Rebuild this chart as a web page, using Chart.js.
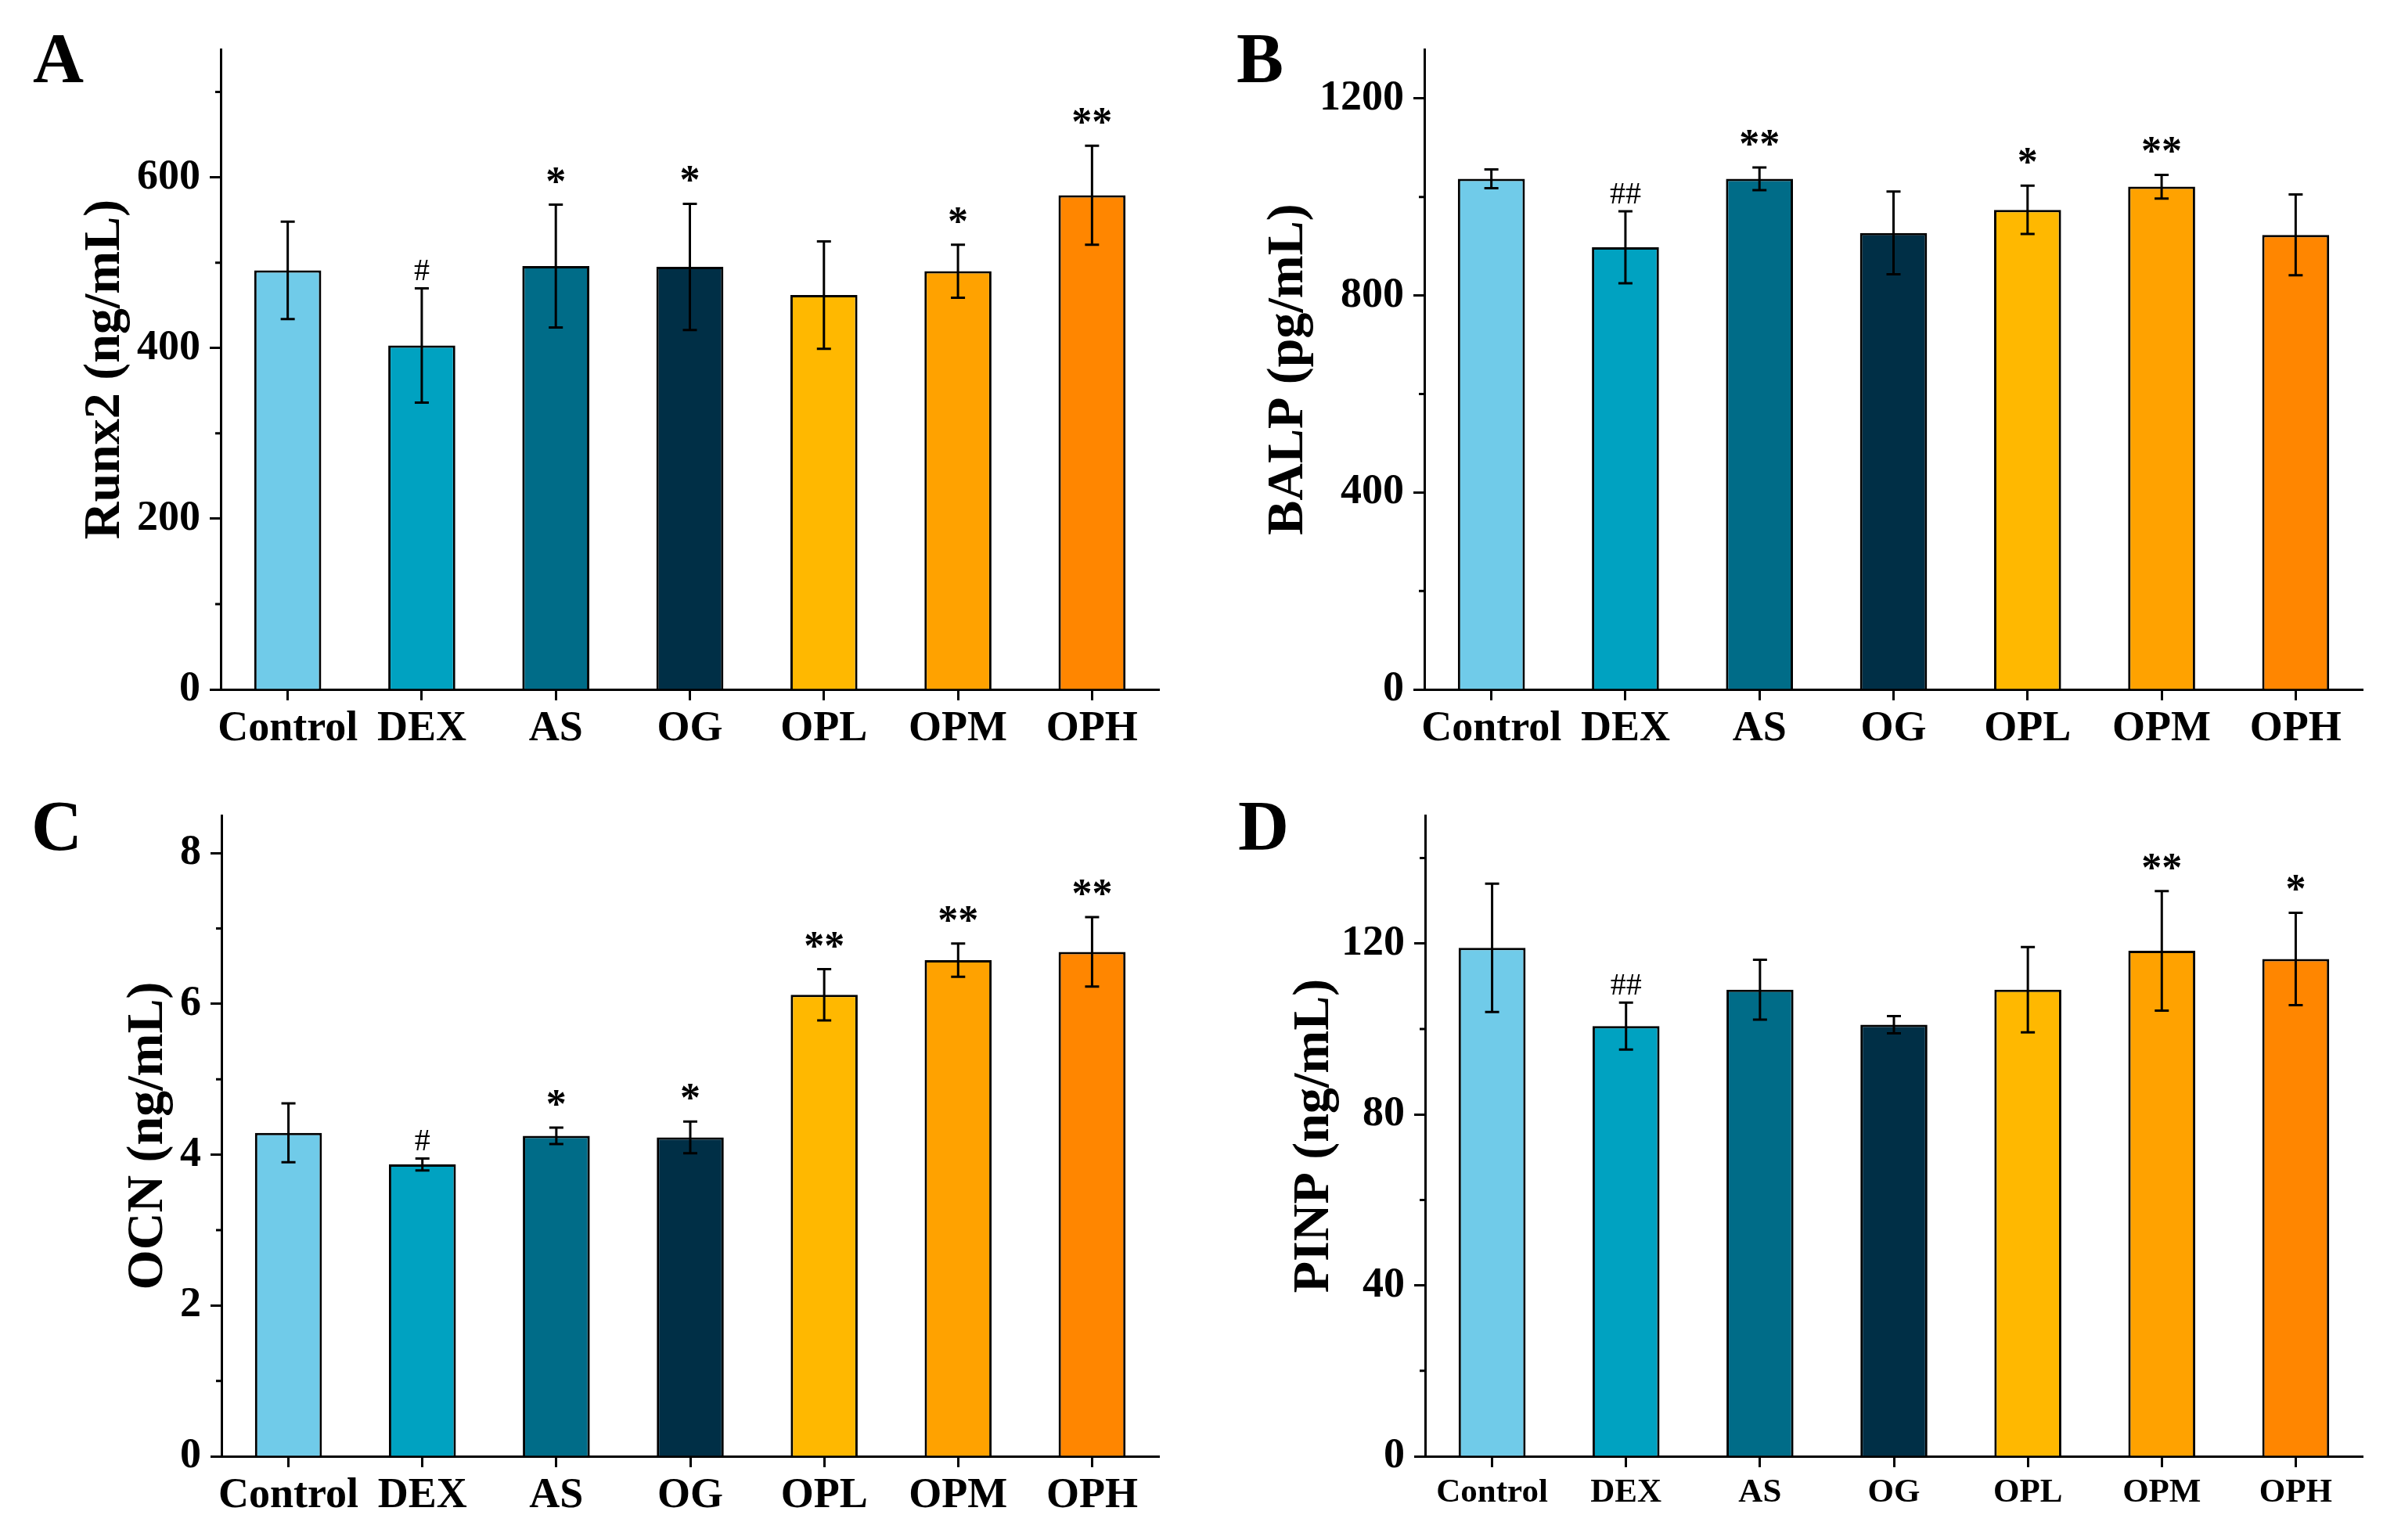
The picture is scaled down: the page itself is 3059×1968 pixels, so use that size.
<!DOCTYPE html>
<html>
<head>
<meta charset="utf-8">
<script src="https://cdn.jsdelivr.net/npm/chart.js@4.4.1/dist/chart.umd.min.js"></script>
<style>
  body { margin: 0; width: 3059px; height: 1968px; background: #fff; position: relative; overflow: hidden; }
  .panel { position: absolute; }
  .letter { position: absolute; font-family: 'Liberation Serif', 'Times New Roman', serif; font-weight: bold; font-size: 90px; line-height: 90px; color: #000; }
</style>
</head>
<body>
<div class="panel" style="left:0;top:0;width:1530px;height:984px"><canvas id="chartA" width="1530" height="984"></canvas></div>
<div class="panel" style="left:1530px;top:0;width:1529px;height:984px"><canvas id="chartB" width="1529" height="984"></canvas></div>
<div class="panel" style="left:0;top:984px;width:1530px;height:984px"><canvas id="chartC" width="1530" height="984"></canvas></div>
<div class="panel" style="left:1530px;top:984px;width:1529px;height:984px"><canvas id="chartD" width="1529" height="984"></canvas></div>
<div class="letter" style="left:42px;top:30px">A</div>
<div class="letter" style="left:1580px;top:30px">B</div>
<div class="letter" style="left:40px;top:1011px">C</div>
<div class="letter" style="left:1582px;top:1011px">D</div>
<script>
const FONT = "'Liberation Serif', 'Times New Roman', serif";

const groups = ['Control', 'DEX', 'AS', 'OG', 'OPL', 'OPM', 'OPH'];
const barColors = ['#70CBE9', '#00A2C1', '#006C88', '#002F46', '#FFB800', '#FFA200', '#FF8600'];

// Runx2 (ng/mL)
const runx2Mean = [491, 403, 496, 495, 462, 490, 579];
const runx2Sd = [57, 67, 72, 74, 63, 31, 58];
const runx2Marks = ['', '#', '*', '*', '', '*', '**'];
const runx2Ticks = [0, 200, 400, 600];

// BALP (pg/mL)
const balpMean = [1037, 898, 1037, 927, 974, 1021, 923];
const balpSd = [19, 73, 23, 84, 49, 24, 82];
const balpMarks = ['', '##', '**', '', '*', '**', ''];
const balpTicks = [0, 400, 800, 1200];

// OCN (ng/mL)
const ocnMean = [4.29, 3.87, 4.25, 4.23, 6.12, 6.58, 6.69];
const ocnSd = [0.39, 0.08, 0.11, 0.21, 0.34, 0.22, 0.46];
const ocnMarks = ['', '#', '*', '*', '**', '**', '**'];
const ocnTicks = [0, 2, 4, 6, 8];

// PINP (ng/mL)
const pinpMean = [119.0, 100.7, 109.2, 101.0, 109.2, 118.3, 116.4];
const pinpSd = [15.0, 5.5, 7.0, 2.0, 10.0, 14.0, 10.8];
const pinpMarks = ['', '##', '', '', '', '**', '*'];
const pinpTicks = [0, 40, 80, 120];

// error bars + significance marks
const errorBarPlugin = {
  id: 'errorBars',
  afterDatasetsDraw(chart, args, opts) {
    const ctx = chart.ctx;
    const y = chart.scales.y;
    const meta = chart.getDatasetMeta(0);
    ctx.save();
    ctx.strokeStyle = '#000';
    ctx.lineWidth = 3;
    ctx.fillStyle = '#000';
    ctx.textAlign = 'center';
    ctx.textBaseline = 'alphabetic';
    meta.data.forEach((bar, i) => {
      const m = opts.mean[i], s = opts.sd[i];
      const yTop = y.getPixelForValue(m + s);
      const yBot = y.getPixelForValue(m - s);
      ctx.beginPath();
      ctx.moveTo(bar.x, yTop); ctx.lineTo(bar.x, yBot);
      ctx.moveTo(bar.x - 9, yTop); ctx.lineTo(bar.x + 9, yTop);
      ctx.moveTo(bar.x - 9, yBot); ctx.lineTo(bar.x + 9, yBot);
      ctx.stroke();
      const mark = opts.marks[i];
      if (mark) {
        const hash = mark.includes('#');
        ctx.font = hash ? '40px ' + FONT : 'bold 52px ' + FONT;
        ctx.fillText(mark, bar.x, yTop - (hash ? 10 : 13));
      }
    });
    ctx.restore();
  }
};

// minor ticks halfway between the labelled ones
const minorTickPlugin = {
  id: 'minorTicks',
  afterDraw(chart, args, opts) {
    const ctx = chart.ctx;
    const y = chart.scales.y;
    const half = (opts.ticks[1] - opts.ticks[0]) / 2;
    ctx.save();
    ctx.strokeStyle = '#000';
    ctx.lineWidth = 3;
    ctx.beginPath();
    for (let v = half; v <= y.max + 1e-9; v += 2 * half) {
      const py = y.getPixelForValue(v);
      ctx.moveTo(y.right - 7, py);
      ctx.lineTo(y.right, py);
    }
    ctx.stroke();
    ctx.restore();
  }
};

function makeChart(id, mean, sd, marks, tickVals, title, yMax, box) {
  return new Chart(document.getElementById(id), {
    type: 'bar',
    data: {
      labels: groups,
      datasets: [{
        data: mean,
        backgroundColor: barColors,
        borderColor: '#000',
        borderWidth: 3,
        barPercentage: 0.5,
        categoryPercentage: 1.0
      }]
    },
    options: {
      responsive: false,
      animation: false,
      layout: { padding: { top: box.top, right: box.right, left: 0, bottom: 0 } },
      plugins: {
        legend: { display: false },
        tooltip: { enabled: false },
        errorBars: { mean: mean, sd: sd, marks: marks },
        minorTicks: { ticks: tickVals }
      },
      scales: {
        x: {
          offset: true,
          grid: { drawOnChartArea: false, offset: false, tickLength: 14, tickWidth: 3, tickColor: '#000' },
          border: { display: true, color: '#000', width: 3 },
          ticks: { color: '#000', autoSkip: false, maxRotation: 0, padding: box.xPad,
                   font: { family: FONT, weight: 'bold', size: box.xFont } },
          afterFit: s => { s.height = box.xHeight; }
        },
        y: {
          min: 0,
          max: yMax,
          grid: { drawOnChartArea: false, tickLength: 14, tickWidth: 3, tickColor: '#000' },
          border: { display: true, color: '#000', width: 3 },
          ticks: { color: '#000', padding: 12, autoSkip: false,
                   callback: v => String(v),
                   font: { family: FONT, weight: 'bold', size: 54 } },
          afterBuildTicks: s => { s.ticks = tickVals.map(v => ({ value: v })); },
          title: { display: true, text: title, color: '#000',
                   font: { family: FONT, weight: 'bold', size: 66, lineHeight: 1 },
                   padding: { top: box.titlePad, bottom: 0 } },
          afterFit: s => { s.width = box.yWidth; }
        }
      }
    },
    plugins: [errorBarPlugin, minorTickPlugin]
  });
}

makeChart('chartA', runx2Mean, runx2Sd, runx2Marks, runx2Ticks, 'Runx2 (ng/mL)', 750,
  { top: 63, right: 49, yWidth: 282, xHeight: 103, titlePad: 102, xFont: 54, xPad: 5 });
makeChart('chartB', balpMean, balpSd, balpMarks, balpTicks, 'BALP (pg/mL)', 1300,
  { top: 63, right: 40, yWidth: 290, xHeight: 103, titlePad: 84, xFont: 54, xPad: 5 });
makeChart('chartC', ocnMean, ocnSd, ocnMarks, ocnTicks, 'OCN (ng/mL)', 8.5,
  { top: 58, right: 49, yWidth: 283, xHeight: 107, titlePad: 157, xFont: 54, xPad: 5 });
makeChart('chartD', pinpMean, pinpSd, pinpMarks, pinpTicks, 'PINP (ng/mL)', 150,
  { top: 58, right: 40, yWidth: 291, xHeight: 107, titlePad: 117, xFont: 43, xPad: 7 });
</script>
</body>
</html>
